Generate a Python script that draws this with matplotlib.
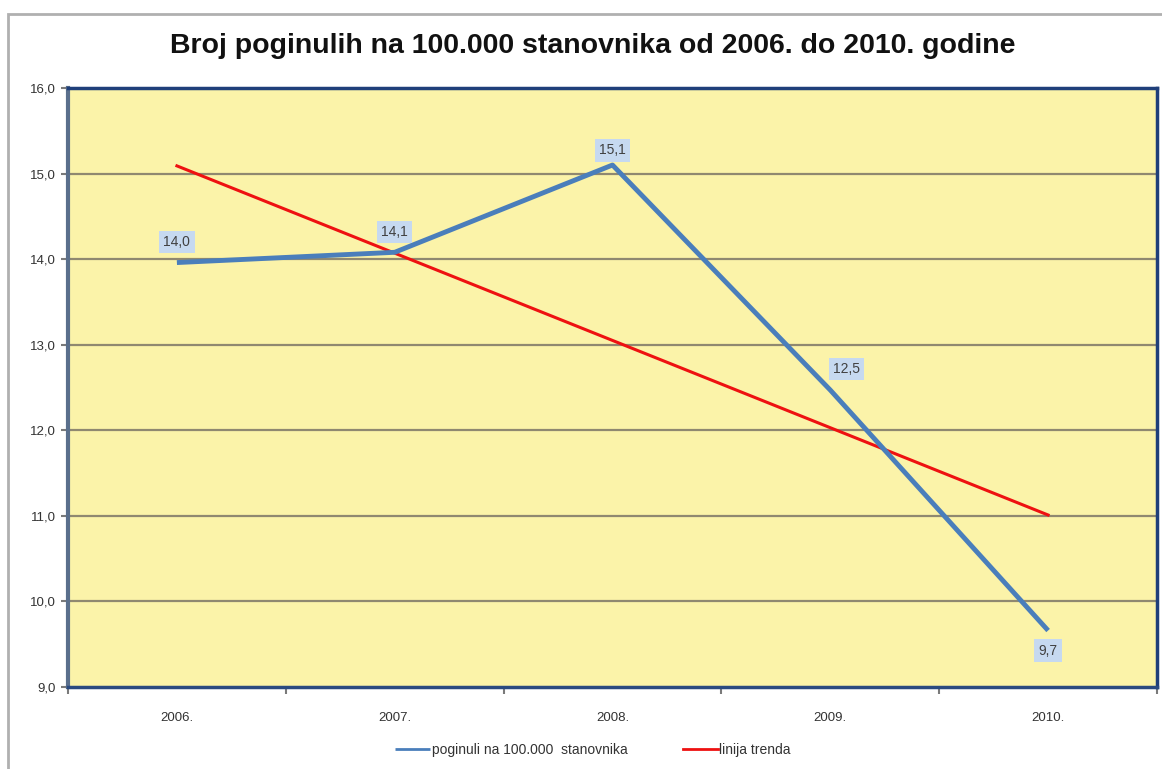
import matplotlib.pyplot as plt
from matplotlib.patches import Rectangle
from matplotlib.ticker import FixedLocator

# data
years = ["2006.", "2007.", "2008.", "2009.", "2010."]
poginuli = [13.96, 14.08, 15.1, 12.47, 9.66]
poginuli_labels = ["14,0", "14,1", "15,1", "12,5", "9,7"]
trend = [15.09, 14.07, 13.05, 12.03, 11.01]
y_ticks = [9, 10, 11, 12, 13, 14, 15, 16]

plt.rcParams["font.family"] = ["Liberation Sans", "DejaVu Sans"]

fig = plt.figure(figsize=(11.62, 7.69), dpi=100)
fig.patch.set_facecolor("white")

# outer chart frame (cut at right/bottom like the screenshot)
fig.patches.append(Rectangle((8 / 1162, -0.05), 1.2, 1 - 14 / 769 + 0.05,
                             transform=fig.transFigure, fill=False,
                             edgecolor="#b0b0b0", linewidth=2))

ax = fig.add_axes([68 / 1162, 1 - 687 / 769, (1157 - 68) / 1162, (687 - 88) / 769])
ax.set_facecolor("#fbf3a9")

x = list(range(len(years)))
ax.set_xlim(-0.5, len(years) - 0.5)
ax.set_ylim(9, 16)

for v in y_ticks[1:-1]:
    ax.axhline(v, color="#8f8870", linewidth=1.6, zorder=1)

line_blue, = ax.plot(x, poginuli, color="#4a7ebb", linewidth=3.5, zorder=3,
                     label="poginuli na 100.000  stanovnika", solid_capstyle="butt")
line_red, = ax.plot(x, trend, color="#ee1111", linewidth=2.2, zorder=2,
                    label="linija trenda")

# data labels (offsets in points)
offsets = [(0, 15), (0, 14.5), (0, 10.5), (11.5, 15), (0, -14.5)]
for xi, yi, txt, (dx, dy) in zip(x, poginuli, poginuli_labels, offsets):
    ax.annotate(txt, (xi, yi), xytext=(dx, dy), textcoords="offset points",
                ha="center", va="center", fontsize=10, color="#404040",
                bbox=dict(boxstyle="square,pad=0.3", facecolor="#c6d9f0",
                          edgecolor="none"), zorder=5)

# axes styling
for side in ["top", "right"]:
    ax.spines[side].set_color("#1f3f7a")
    ax.spines[side].set_linewidth(2.5)
ax.spines["left"].set_color("#5a6f8c")
ax.spines["left"].set_linewidth(3)
ax.spines["bottom"].set_color("#2a4a80")
ax.spines["bottom"].set_linewidth(2.5)

ax.set_yticks(y_ticks)
ax.set_yticklabels([f"{v:.1f}".replace(".", ",") for v in y_ticks])
ax.tick_params(axis="y", direction="out", length=5, width=1.5, color="#7a7a7a",
               labelsize=9.5, labelcolor="#333333", pad=4)

ax.set_xticks(x)
ax.set_xticklabels(years)
ax.tick_params(axis="x", length=0, labelsize=9.5, labelcolor="#333333", pad=18)
ax.xaxis.set_minor_locator(FixedLocator([i + 0.5 for i in range(-1, len(years))]))
ax.tick_params(axis="x", which="minor", direction="out", length=5, width=1.5,
               color="#7a7a7a")

fig.text(593 / 1162, 1 - 46 / 769,
         "Broj poginulih na 100.000 stanovnika od 2006. do 2010. godine",
         ha="center", va="center", fontsize=20.5, fontweight="bold", color="#111111")

fig.legend(handles=[line_blue, line_red], loc="center", ncol=2,
           bbox_to_anchor=(593 / 1162, 1 - 750 / 769), frameon=False, fontsize=10,
           handlelength=2.5, handletextpad=0.1, columnspacing=4,
           labelcolor="#333333")
for lh in fig.legends[0].get_lines():
    lh.set_linewidth(2)

fig.savefig("out.png", dpi=100, facecolor="white")
